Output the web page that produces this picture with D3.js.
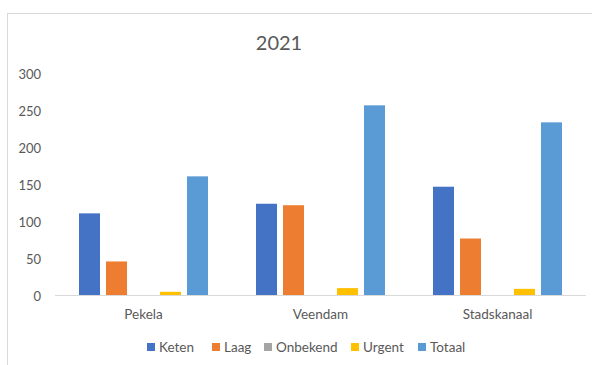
<!DOCTYPE html>
<html><head><meta charset="utf-8">
<script src="https://cdn.jsdelivr.net/npm/d3@7"></script>
<style>html,body{margin:0;padding:0;background:#fff;}svg{display:block;}</style>
</head><body>
<svg id="c" width="592" height="365"></svg>
<script>
const categories = ["Pekela", "Veendam", "Stadskanaal"];
const seriesNames = ["Keten", "Laag", "Onbekend", "Urgent", "Totaal"];
const keten = [111, 124, 147];
const laag = [46, 122, 77];
const onbekend = [0, 0, 0];
const urgent = [5, 10, 9];
const totaal = [161, 257, 234];
const yTicks = [0, 50, 100, 150, 200, 250, 300];
const title = "2021";
const colors = ["#4472C4", "#ED7D31", "#A5A5A5", "#FFC000", "#5B9BD5"];

const seriesValues = [keten, laag, onbekend, urgent, totaal];
const font = "Lato, 'Open Sans', sans-serif";
const svg = d3.select("#c");

// frame
svg.append("line").attr("x1", 7).attr("x2", 592).attr("y1", 13.5).attr("y2", 13.5).attr("stroke", "#d9d9d9");
svg.append("line").attr("x1", 7.5).attr("x2", 7.5).attr("y1", 13).attr("y2", 365).attr("stroke", "#d9d9d9");

const x0 = d3.scaleBand().domain(categories).range([55, 586]).padding(0);
const x1 = d3.scaleBand().domain(seriesNames).range([0, x0.bandwidth()]).paddingInner(0.222).paddingOuter(0.889);
const y = d3.scaleLinear().domain([0, 300]).range([295.5, 73.5]);

svg.append("text").attr("x", 279).attr("y", 50).attr("text-anchor", "middle")
  .attr("font-family", font).attr("font-size", 20).attr("fill", "#595959").text(title);

// y axis labels
const yAxis = d3.axisLeft(y).tickValues(yTicks).tickSize(0).tickPadding(0);
const ya = svg.append("g").attr("transform", "translate(41,0)").call(yAxis);
ya.select(".domain").remove();
ya.selectAll("text").attr("font-family", font).attr("font-size", 13).attr("fill", "#595959").attr("dy", "0.35em");

// bars
categories.forEach((c, ci) => {
  seriesNames.forEach((s, si) => {
    const v = seriesValues[si][ci];
    if (v <= 0) return;
    svg.append("rect")
      .attr("x", x0(c) + x1(s))
      .attr("y", y(v))
      .attr("width", x1.bandwidth())
      .attr("height", y(0) - y(v))
      .attr("fill", colors[si]);
  });
});

// x axis
const xAxis = d3.axisBottom(x0).tickSize(0).tickPadding(14);
const xa = svg.append("g").attr("transform", `translate(0,${y(0)})`).call(xAxis);
xa.select(".domain").attr("stroke", "#d9d9d9").attr("d", `M55,0H586`);
xa.selectAll("text").attr("font-family", font).attr("font-size", 13.5).attr("fill", "#595959");

// legend
const legendX = [147, 212, 264, 351, 418];
const lg = svg.append("g");
seriesNames.forEach((s, i) => {
  lg.append("rect").attr("x", legendX[i]).attr("y", 343).attr("width", 8).attr("height", 8).attr("fill", colors[i]);
  lg.append("text").attr("x", legendX[i] + 12).attr("y", 347).attr("dy", "0.35em")
    .attr("font-family", font).attr("font-size", 13.5).attr("fill", "#595959").text(s);
});
</script>
</body></html>
